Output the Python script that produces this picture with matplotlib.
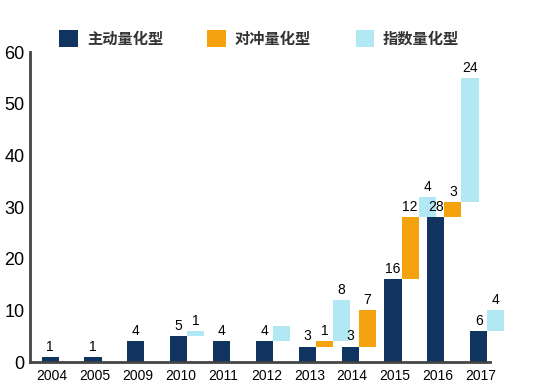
import matplotlib.pyplot as plt
import numpy as np

plt.rcParams['font.family'] = ['Liberation Sans', 'Noto Sans CJK SC', 'DejaVu Sans']

# 数据
years = ['2004', '2005', '2009', '2010', '2011', '2012', '2013', '2014', '2015', '2016', '2017']
active = [1, 1, 4, 5, 4, 4, 3, 3, 16, 28, 6]      # 主动量化型
hedge = [0, 0, 0, 0, 0, 0, 1, 7, 12, 3, 0]        # 对冲量化型
index = [0, 0, 0, 1, 0, 3, 8, 0, 4, 24, 4]        # 指数量化型
index_labels = ['', '', '', '1', '', '', '8', '', '4', '24', '4']

c_active = '#11335f'
c_hedge = '#f5a20f'
c_index = '#b2e7f4'

fig = plt.figure(figsize=(5.5, 3.91), dpi=100)
ax = fig.add_axes([0.0545, 0.074, 0.836, 0.793])

x = np.arange(len(years))
w = 0.40
step = 0.40

# 主动
b1 = ax.bar(x, active, w, color=c_active, clip_on=False, zorder=2)
# 对冲从主动顶部开始, 指数从对冲顶部开始
xh, hh, bh = [], [], []
xi, hi, bi, li = [], [], [], []
for i in range(len(years)):
    slot = 1
    if hedge[i] > 0:
        xh.append(x[i] + step * slot)
        hh.append(hedge[i])
        bh.append(active[i])
        slot += 1
    if index[i] > 0:
        xi.append(x[i] + step * slot)
        hi.append(index[i])
        bi.append(active[i] + hedge[i])
        li.append(index_labels[i])
b2 = ax.bar(xh, hh, w, bottom=bh, color=c_hedge, clip_on=False, zorder=2)
b3 = ax.bar(xi, hi, w, bottom=bi, color=c_index, clip_on=False, zorder=1)

# 数值标签
for xx, v in zip(x, active):
    ax.text(xx, v + 0.6, str(v), ha='center', va='bottom', fontsize=10, zorder=5)
for xx, v, b in zip(xh, hh, bh):
    ax.text(xx, b + v + 0.6, str(v), ha='center', va='bottom', fontsize=10, zorder=5)
for xx, v, b, lab in zip(xi, hi, bi, li):
    if lab:
        ax.text(xx, b + v + 0.6, lab, ha='center', va='bottom', fontsize=10, zorder=5)

ax.set_xlim(-0.47, 10.26)
ax.set_ylim(0, 60)
ax.set_yticks(range(0, 61, 10))
ax.set_xticks(x + 0.05)
ax.set_xticklabels(years, fontsize=10)
ax.tick_params(axis='y', labelsize=13, length=0, pad=4)
ax.tick_params(axis='x', length=0, pad=5)

for s in ['top', 'right']:
    ax.spines[s].set_visible(False)
for s in ['left', 'bottom']:
    ax.spines[s].set_color('#444444')
    ax.spines[s].set_linewidth(2)
    ax.spines[s].set_zorder(3)

leg = fig.legend([b1, b2, b3], ['主动量化型', '对冲量化型', '指数量化型'],
                 loc='upper left', bbox_to_anchor=(0.108, 0.922), ncol=3, frameon=False,
                 prop={'family': ['Noto Sans CJK SC'], 'weight': 'bold', 'size': 11},
                 handlelength=1.2, handleheight=1.25, handletextpad=0.6,
                 columnspacing=2.9, borderpad=0, borderaxespad=0)
for t in leg.get_texts():
    t.set_color('#333333')

plt.savefig('out.png', dpi=100)
